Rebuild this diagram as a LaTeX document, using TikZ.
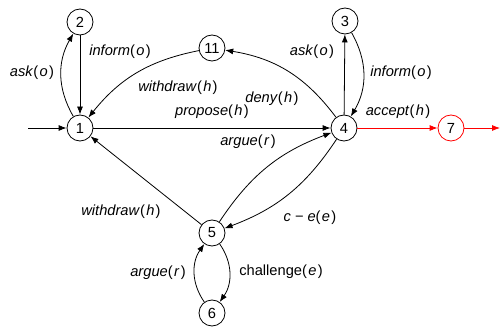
\documentclass[tikz,border=0pt]{standalone}
\usepackage{fontspec}
\setmainfont{Liberation Sans}
\usetikzlibrary{arrows.meta}

% message label: italic act, italic argument
\newcommand{\act}[2]{\textit{#1}(\kern1pt\textit{#2}\kern1pt)}

\begin{document}
\begin{tikzpicture}[x=0.75pt, y=-0.75pt,
  every node/.style={font=\fontsize{11}{13}\selectfont, inner sep=1pt},
  state/.style={draw, circle, minimum size=19.5pt, inner sep=0pt, line width=0.6pt},
  trans/.style={-{Latex[length=6pt,width=4.5pt]}, line width=0.6pt}]
\useasboundingbox (0,0) rectangle (501,328);
\node[state] (S1) at (80,128) {1};
\node[state] (S2) at (80,22) {2};
\node[state] (S11) at (212,48) {11};
\node[state] (S3) at (345,21) {3};
\node[state] (S4) at (344,128) {4};
\node[state, draw=red] (S7) at (451,128) {7};
\node[state] (S5) at (212,233) {5};
\node[state] (S6) at (212,313) {6};
\coordinate (entry) at (28,128);
\coordinate (exit) at (500,128);
\draw[trans] (entry) -- (S1);
\draw[trans] (S1) to[bend left=30] (S2);
\draw[trans] (S2) -- (S1);
\draw[trans] (S11) to[bend right=20] (S1);
\draw[trans] (S4) to[bend right=22] (S11);
\draw[trans] (S1) -- (S4);
\draw[trans] (S5) to[bend left=18] (S4);
\draw[trans] (S4) to[bend left=18] (S5);
\draw[trans] (S5) -- (S1);
\draw[trans] (S4) -- (S3);
\draw[trans] (S3) to[bend left=30] (S4);
\draw[trans, red] (S4) -- (S7);
\draw[trans, red] (S7) -- (exit);
\draw[trans] (S6) to[bend left=35] (S5);
\draw[trans] (S5) to[bend left=35] (S6);
% labels
\node (L12) at (32,73) {\act{ask}{o}};
\node (L21) at (120,52) {\act{inform}{o}};
\node (L111) at (178,88) {\act{withdraw}{h}};
\node (L14) at (212,112) {\act{propose}{h}};
\node (L411) at (272,99) {\act{deny}{h}};
\node (L54) at (248,142) {\act{argue}{r}};
\node (L43) at (312,52) {\act{ask}{o}};
\node (L34) at (401,73) {\act{inform}{o}};
\node (L47) at (398,112) {\act{accept}{h}};
\node (L51) at (121,212) {\act{withdraw}{h}};
\node (L65) at (158,273) {\act{argue}{r}};
\node (L56) at (281,272) {challenge(\kern1pt\textit{e}\kern1pt)};
\node (L45) at (310,218) {\textit{c}\kern3pt−\kern3pt\textit{e}(\kern1pt\textit{e}\kern1pt)};
\end{tikzpicture}
\end{document}
